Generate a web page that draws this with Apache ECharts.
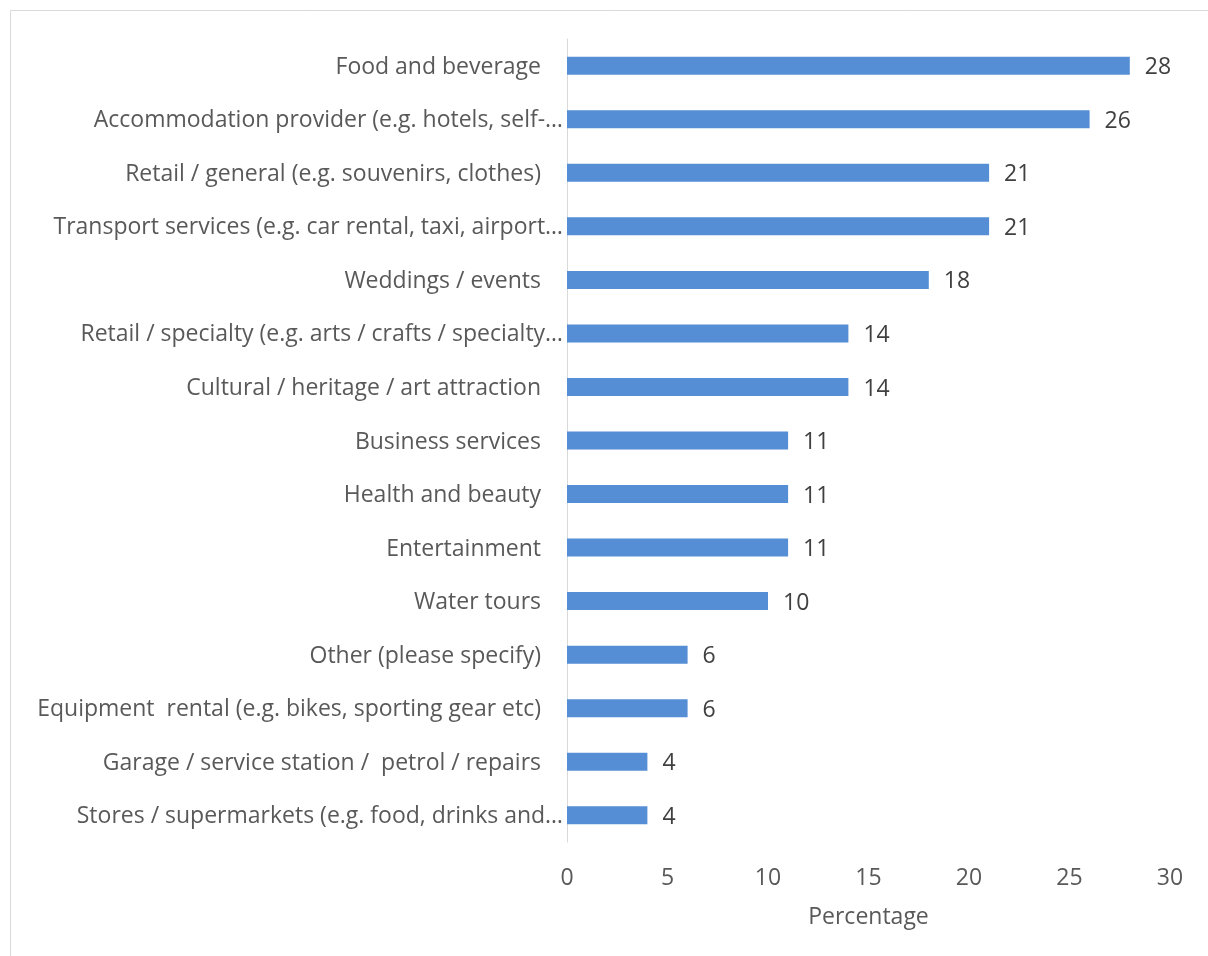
<!DOCTYPE html>
<html>
<head>
<meta charset="utf-8">
<style>
  html, body { margin: 0; padding: 0; background: #ffffff; }
  #chart { width: 1208px; height: 956px; }
</style>
<script src="https://cdn.jsdelivr.net/npm/echarts@6/dist/echarts.min.js"></script>
</head>
<body>
<div id="chart"></div>
<script>
// Business categories (top to bottom) and their share in percent
const categories = [
  'Food and beverage',
  'Accommodation provider (e.g. hotels, self-…',
  'Retail / general (e.g. souvenirs, clothes)',
  'Transport services (e.g. car rental, taxi, airport…',
  'Weddings / events',
  'Retail / specialty (e.g. arts / crafts / specialty…',
  'Cultural / heritage / art attraction',
  'Business services',
  'Health and beauty',
  'Entertainment',
  'Water tours',
  'Other (please specify)',
  'Equipment  rental (e.g. bikes, sporting gear etc)',
  'Garage / service station /  petrol / repairs',
  'Stores / supermarkets (e.g. food, drinks and…'
];
const percentages = [28, 26, 21, 21, 18, 14, 14, 11, 11, 11, 10, 6, 6, 4, 4];
const xTicks = { min: 0, max: 30, step: 5 };

const FONT = '"Open Sans", Lato, sans-serif';
const FS = 23;
const chart = echarts.init(document.getElementById('chart'));

chart.setOption({
  animation: false,
  backgroundColor: '#ffffff',
  graphic: [{
    type: 'rect',
    shape: { x: 10.5, y: 10.5, width: 1400, height: 1200 },
    style: { fill: 'none', stroke: '#d9d9d9', lineWidth: 1 },
    silent: true
  }],
  grid: { left: 567, right: 38, top: 39, bottom: 114, containLabel: false },
  xAxis: {
    type: 'value',
    min: xTicks.min,
    max: xTicks.max,
    interval: xTicks.step,
    name: 'Percentage',
    nameLocation: 'middle',
    nameGap: 64,
    nameTextStyle: { fontFamily: FONT, fontSize: FS, color: '#595959' },
    axisLine: { show: false },
    axisTick: { show: false },
    splitLine: { show: false },
    axisLabel: { fontFamily: FONT, fontSize: FS, color: '#595959', margin: 25 }
  },
  yAxis: {
    type: 'category',
    data: categories,
    inverse: true,
    axisLine: { show: true, lineStyle: { color: '#d9d9d9', width: 1 } },
    axisTick: { show: false },
    axisLabel: {
      margin: 4,
      fontFamily: FONT,
      fontSize: FS,
      color: '#595959',
      formatter: function (v) {
        return v.endsWith('…') ? '{t|' + v + '}' : '{p|' + v + '}';
      },
      rich: {
        t: { fontFamily: FONT, fontSize: FS, color: '#595959', padding: [3, 0, 0, 0] },
        p: { fontFamily: FONT, fontSize: FS, color: '#595959', padding: [3, 22, 0, 0] }
      }
    }
  },
  series: [{
    type: 'bar',
    data: percentages,
    barWidth: 18,
    itemStyle: { color: '#558ed5' },
    label: {
      show: true,
      position: 'right',
      distance: 15,
      offset: [0, 2],
      fontFamily: FONT,
      fontSize: FS,
      color: '#404040'
    }
  }]
});
</script>
</body>
</html>
